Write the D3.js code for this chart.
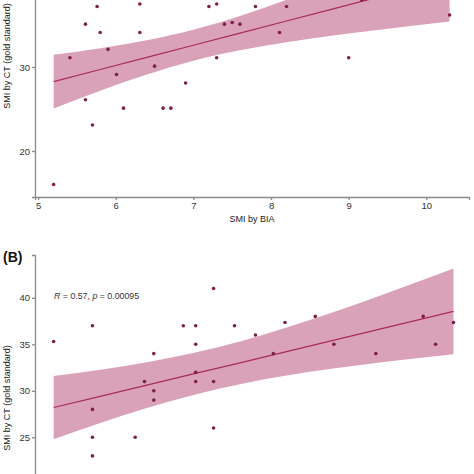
<!DOCTYPE html>
<html><head><meta charset="utf-8">
<script src="https://cdn.jsdelivr.net/npm/d3@7/dist/d3.min.js"></script>
<style>html,body{margin:0;padding:0;background:#fff;overflow:hidden}svg{display:block}</style>
</head><body>
<script>
// ---------- Data ----------
// Panel A: SMI by BIA (x) vs SMI by CT (y)
const aX = [5.2, 5.41, 5.61, 5.61, 5.7, 5.76, 5.8, 5.9, 6.01, 6.1, 6.31, 6.31, 6.5, 6.61, 6.71, 6.9, 7.2, 7.3, 7.3, 7.4, 7.5, 7.6, 7.8, 8.11, 8.2, 9.0, 9.17, 10.3];
const aY = [16.0, 31.1, 35.1, 26.1, 23.1, 37.2, 34.1, 32.1, 29.1, 25.1, 37.5, 34.1, 30.1, 25.1, 25.1, 28.1, 37.2, 37.5, 31.1, 35.1, 35.3, 35.1, 37.2, 34.1, 37.2, 31.1, 38.0, 36.2];
// Panel A fit line and confidence band
const aBandX = [5.2, 5.8, 6.4, 7.0, 7.6, 8.2, 8.8, 9.4, 10.3];
const aFit   = [28.25, 29.70, 31.14, 32.59, 34.03, 35.48, 36.93, 38.37, 40.54];
const aLow   = [25.05, 27.17, 29.10, 30.75, 31.99, 32.95, 33.74, 34.43, 35.41];
const aHigh  = [31.45, 32.23, 33.18, 34.43, 36.07, 38.01, 40.12, 42.31, 45.67];
const aXTicks = [5, 6, 7, 8, 9, 10];
const aYTicks = [20, 30];

// Panel B
const bX = [5.2, 5.7, 5.7, 5.7, 5.7, 6.25, 6.37, 6.49, 6.49, 6.49, 6.87, 7.03, 7.03, 7.03, 7.03, 7.26, 7.26, 7.26, 7.53, 7.8, 8.03, 8.18, 8.57, 8.81, 9.35, 9.96, 10.12, 10.35];
const bY = [35.3, 37.0, 28.0, 25.0, 23.0, 25.0, 31.0, 34.0, 30.0, 29.0, 37.0, 37.0, 35.0, 32.0, 31.0, 41.0, 31.0, 26.0, 37.0, 36.0, 34.0, 37.35, 38.0, 35.0, 34.0, 38.0, 35.0, 37.35];
const bBandX = [5.2, 5.8, 6.4, 7.0, 7.6, 8.2, 8.8, 9.4, 10.35];
const bFit   = [28.20, 29.40, 30.61, 31.81, 33.01, 34.22, 35.42, 36.63, 38.53];
const bLow   = [24.80, 26.53, 28.14, 29.55, 30.71, 31.64, 32.39, 33.03, 33.92];
const bHigh  = [31.60, 32.27, 33.08, 34.07, 35.31, 36.80, 38.45, 40.23, 43.14];
const bYTicks = [25, 30, 35, 40];
const bStat = "R = 0.57, p = 0.00095";

const xTitle = "SMI by BIA";
const yTitle = "SMI by CT (gold standard)";
const panelLabel = "(B)";

// ---------- Drawing ----------
const W = 474, H = 474;
const FONT = "'Liberation Sans', Arial, sans-serif";
const BAND = "#d9a2b8", LINE = "#aa2a5c", PT = "#7e1f47", AXIS = "#8a8a8a", TXT = "#333";

const svg = d3.select("body").append("svg").attr("width", W).attr("height", H)
  .style("font-family", FONT);

function panel(opts) {
  const g = svg.append("g");
  const x = opts.x, y = opts.y;
  const band = opts.bandX.map((v, i) => ({x: v, lo: opts.low[i], hi: opts.high[i], f: opts.fit[i]}));
  g.append("path").datum(band)
    .attr("d", d3.area().x(d => x(d.x)).y0(d => y(d.lo)).y1(d => y(d.hi)).curve(d3.curveMonotoneX))
    .attr("fill", BAND).attr("stroke", "none");
  g.append("path").datum(band)
    .attr("d", d3.line().x(d => x(d.x)).y(d => y(d.f)))
    .attr("fill", "none").attr("stroke", LINE).attr("stroke-width", 1.2);
  g.selectAll("circle.pt").data(opts.px.map((v, i) => [v, opts.py[i]])).enter()
    .append("circle").attr("class", "pt")
    .attr("cx", d => x(d[0])).attr("cy", d => y(d[1])).attr("r", 1.8).attr("fill", PT);

  const yAx = g.append("g").attr("transform", `translate(${opts.axisX},0)`)
    .call(d3.axisLeft(y).tickValues(opts.yTicks).tickSizeOuter(0).tickSize(3).tickPadding(2).tickFormat(d3.format("d")));
  yAx.selectAll("path,line").attr("stroke", AXIS).attr("stroke-width", 1.3);
  yAx.selectAll("text").attr("fill", TXT).style("font-size", "9.5px").style("font-family", FONT);

  if (opts.xTicks) {
    const xAx = g.append("g").attr("transform", `translate(0,${opts.axisY})`)
      .call(d3.axisBottom(x).tickValues(opts.xTicks).tickSizeOuter(0).tickSize(3).tickPadding(2).tickFormat(d3.format("d")));
    xAx.selectAll("path,line").attr("stroke", AXIS).attr("stroke-width", 1.3);
    xAx.selectAll("text").attr("fill", TXT).style("font-size", "9.5px").style("font-family", FONT);
  }
  g.append("text").attr("transform", `translate(${opts.yTitleX},${opts.yTitleY}) rotate(-90)`)
    .attr("text-anchor", "middle").attr("dominant-baseline", "middle")
    .style("font-size", "9px").attr("fill", "#222").text(yTitle);
}

// Panel A scales
const xA = d3.scaleLinear().domain([4.96, 10.55]).range([35, 469]);
const yA = d3.scaleLinear().domain([14.52, 48.1]).range([197, -85]);
panel({x: xA, y: yA, px: aX, py: aY, bandX: aBandX, fit: aFit, low: aLow, high: aHigh,
  yTicks: aYTicks, xTicks: aXTicks, axisX: 35, axisY: 197, yTitleX: 8, yTitleY: 56});
svg.append("text").attr("x", xA((xA.domain()[0] + xA.domain()[1]) / 2)).attr("y", 222)
  .attr("text-anchor", "middle").style("font-size", "9px").attr("fill", "#222").text(xTitle);

// Panel B scales
const xB = d3.scaleLinear().domain([4.96, 10.55]).range([35, 469]);
const yB = d3.scaleLinear().domain([13.85, 44.6]).range([541, 255]);
panel({x: xB, y: yB, px: bX, py: bY, bandX: bBandX, fit: bFit, low: bLow, high: bHigh,
  yTicks: bYTicks, xTicks: null, axisX: 35, yTitleX: 8, yTitleY: 398});

svg.append("text").attr("x", 3).attr("y", 262).style("font-size", "14px").style("font-weight", "bold")
  .attr("fill", "#111").text(panelLabel);

const st = svg.append("text").attr("x", 54).attr("y", 299).style("font-size", "8.8px").attr("fill", "#333");
const parts = bStat.split(/([Rp])(?= =)/);
parts.forEach(p => { if (p) st.append("tspan").style("font-style", (p === "R" || p === "p") ? "italic" : "normal").text(p); });
</script>
</body></html>
